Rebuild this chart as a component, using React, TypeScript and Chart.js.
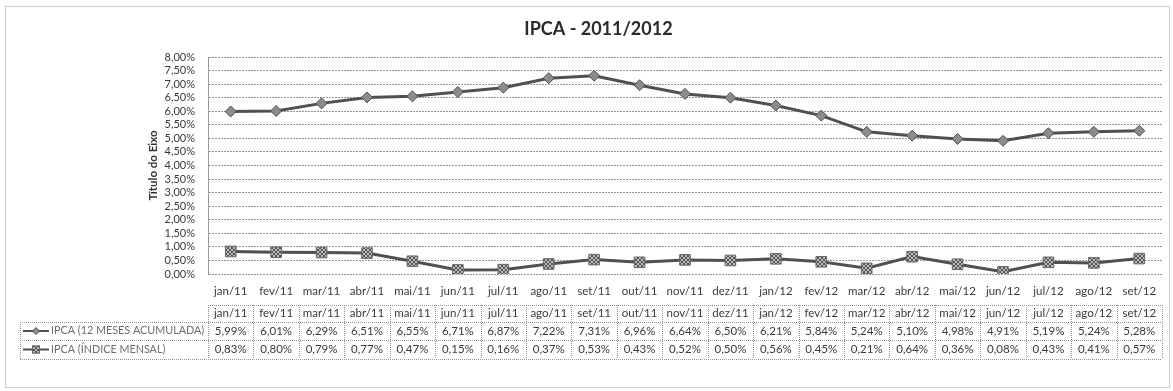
import React, { useEffect, useRef } from "react";
import { Chart, registerables } from "chart.js";

Chart.register(...registerables);

// Meses de referência (eixo X e cabeçalho da tabela)
const months = [
  "jan/11", "fev/11", "mar/11", "abr/11", "mai/11", "jun/11", "jul/11",
  "ago/11", "set/11", "out/11", "nov/11", "dez/11", "jan/12", "fev/12",
  "mar/12", "abr/12", "mai/12", "jun/12", "jul/12", "ago/12", "set/12",
];

// IPCA acumulado em 12 meses (%)
const ipca12Meses = [
  5.99, 6.01, 6.29, 6.51, 6.55, 6.71, 6.87, 7.22, 7.31, 6.96, 6.64,
  6.5, 6.21, 5.84, 5.24, 5.1, 4.98, 4.91, 5.19, 5.24, 5.28,
];

// IPCA índice mensal (%)
const ipcaMensal = [
  0.83, 0.8, 0.79, 0.77, 0.47, 0.15, 0.16, 0.37, 0.53, 0.43, 0.52,
  0.5, 0.56, 0.45, 0.21, 0.64, 0.36, 0.08, 0.43, 0.41, 0.57,
];

const seriesNames = ["IPCA (12 MESES ACUMULADA)", "IPCA (ÍNDICE MENSAL)"];

// Escala do eixo Y (%)
const yMin = 0;
const yMax = 8;
const yStep = 0.5;

const chartTitle = "IPCA - 2011/2012";
const axisTitle = "Título do Eixo";

const FONT = "Lato, 'Liberation Sans', sans-serif";
const LINE_COLOR = "#505050";
const TEXT_DARK = "#3a3a3a";
const GRID_COLOR = "#949494";

const fmtPct = (v: number) => v.toFixed(2).replace(".", ",") + "%";

function makeHatch(): CanvasPattern | string {
  const c = document.createElement("canvas");
  c.width = 4;
  c.height = 4;
  const g = c.getContext("2d");
  if (!g) return "#888";
  g.fillStyle = "#bdbdbd";
  g.fillRect(0, 0, 4, 4);
  g.fillStyle = "#555";
  for (let i = 0; i < 4; i++) {
    g.fillRect(i, i, 1, 1);
    g.fillRect(3 - i, i, 1, 1);
  }
  const p = g.createPattern(c, "repeat");
  return p || "#888";
}

function drawDiamond(ctx: CanvasRenderingContext2D, cx: number, cy: number, r: number) {
  ctx.beginPath();
  ctx.moveTo(cx, cy - r);
  ctx.lineTo(cx + r, cy);
  ctx.lineTo(cx, cy + r);
  ctx.lineTo(cx - r, cy);
  ctx.closePath();
  ctx.fillStyle = "#8c8c8c";
  ctx.fill();
  ctx.strokeStyle = LINE_COLOR;
  ctx.lineWidth = 1;
  ctx.stroke();
}

// Moldura pontilhada e fundo branco
const framePlugin = {
  id: "frame",
  beforeDraw(chart: Chart) {
    const { ctx, width, height } = chart;
    ctx.save();
    ctx.fillStyle = "#ffffff";
    ctx.fillRect(0, 0, width, height);
    ctx.strokeStyle = "#9a9a9a";
    ctx.lineWidth = 1;
    ctx.setLineDash([1, 1]);
    ctx.strokeRect(5.5, 6.5, width - 9, height - 10);
    ctx.restore();
  },
};

// Título do gráfico
const headingPlugin = {
  id: "heading",
  afterDraw(chart: Chart) {
    const { ctx, width } = chart;
    ctx.save();
    ctx.font = `bold 18px ${FONT}`;
    ctx.fillStyle = "#2a2a2a";
    ctx.textAlign = "center";
    ctx.textBaseline = "middle";
    ctx.fillText(chartTitle, width / 2 + 12, 29);
    ctx.restore();
  },
};

// Tabela de dados abaixo do eixo X
const dataTablePlugin = {
  id: "dataTable",
  afterDraw(chart: Chart) {
    const { ctx, chartArea } = chart;
    const x = chart.scales.x;
    const n = months.length;
    const left = x.getPixelForValue(-0.5);
    const right = x.getPixelForValue(n - 0.5);
    const base = chartArea.bottom;
    const rows = [base + 31, base + 48, base + 66, base + 85];
    const keyLeft = 20;
    const a = (v: number) => Math.round(v) + 0.5;

    ctx.save();
    ctx.strokeStyle = GRID_COLOR;
    ctx.lineWidth = 1;
    ctx.setLineDash([1, 1]);
    const hline = (x1: number, x2: number, y: number) => {
      ctx.beginPath();
      ctx.moveTo(x1, a(y));
      ctx.lineTo(x2, a(y));
      ctx.stroke();
    };
    const vline = (xx: number, y1: number, y2: number) => {
      ctx.beginPath();
      ctx.moveTo(a(xx), y1);
      ctx.lineTo(a(xx), y2);
      ctx.stroke();
    };
    hline(left, right, rows[0]);
    hline(keyLeft, right, rows[1]);
    hline(keyLeft, right, rows[2]);
    hline(keyLeft, right, rows[3]);
    vline(keyLeft, rows[1], rows[3]);
    for (let i = 0; i <= n; i++) {
      vline(x.getPixelForValue(i - 0.5), rows[0], rows[3]);
    }
    ctx.setLineDash([]);

    ctx.font = `11.5px ${FONT}`;
    ctx.fillStyle = TEXT_DARK;
    ctx.textAlign = "center";
    ctx.textBaseline = "middle";
    const mid = (r: number) => (rows[r] + rows[r + 1]) / 2;
    for (let i = 0; i < n; i++) {
      const cx = x.getPixelForValue(i);
      ctx.fillText(months[i], cx, mid(0));
      ctx.fillText(fmtPct(ipca12Meses[i]), cx, mid(1));
      ctx.fillText(fmtPct(ipcaMensal[i]), cx, mid(2));
    }

    // Chaves da legenda
    const hatch = makeHatch();
    ctx.font = `10.8px ${FONT}`;
    for (let r = 0; r < 2; r++) {
      const cy = mid(r + 1);
      ctx.strokeStyle = LINE_COLOR;
      ctx.lineWidth = 2;
      ctx.beginPath();
      ctx.moveTo(23, cy);
      ctx.lineTo(49, cy);
      ctx.stroke();
      if (r === 0) {
        drawDiamond(ctx, 36, cy, 3.5);
      } else {
        ctx.fillStyle = hatch as any;
        ctx.fillRect(32, cy - 4, 8, 8);
        ctx.strokeStyle = "#666";
        ctx.lineWidth = 1;
        ctx.strokeRect(32.5, cy - 3.5, 7, 7);
      }
      ctx.fillStyle = "#6e6e6e";
      ctx.textAlign = "left";
      ctx.fillText(seriesNames[r], 51, cy);
    }
    ctx.restore();
  },
};

export default function App() {
  const canvasRef = useRef<HTMLCanvasElement | null>(null);

  useEffect(() => {
    document.body.style.margin = "0";
    const canvas = canvasRef.current;
    if (!canvas) return;
    const hatch = makeHatch();

    const chart = new Chart(canvas, {
      type: "line",
      data: {
        labels: months,
        datasets: [
          {
            label: seriesNames[0],
            data: ipca12Meses,
            borderColor: LINE_COLOR,
            borderWidth: 3,
            pointStyle: "rectRot",
            pointRadius: 5.5,
            pointBackgroundColor: "#8c8c8c",
            pointBorderColor: LINE_COLOR,
            pointBorderWidth: 1,
            tension: 0,
          },
          {
            label: seriesNames[1],
            data: ipcaMensal,
            borderColor: LINE_COLOR,
            borderWidth: 3,
            pointStyle: "rect",
            pointRadius: 7.5,
            pointBackgroundColor: hatch as any,
            pointBorderColor: "#666",
            pointBorderWidth: 1,
            tension: 0,
          },
        ],
      },
      options: {
        responsive: false,
        animation: false,
        devicePixelRatio: 1,
        layout: { padding: { top: 57, right: 11, bottom: 87, left: 0 } },
        plugins: {
          legend: { display: false },
          title: { display: false },
          tooltip: { enabled: false },
        },
        scales: {
          x: {
            offset: true,
            grid: { display: false, drawTicks: false },
            border: { display: false },
            ticks: {
              color: TEXT_DARK,
              font: { family: FONT, size: 11.5 },
              padding: 10,
              autoSkip: false,
              maxRotation: 0,
            },
            afterFit(scale: any) {
              scale.height = 30;
            },
          },
          y: {
            min: yMin,
            max: yMax,
            grid: {
              color: GRID_COLOR,
              lineWidth: 1,
              drawTicks: false,
            },
            border: { display: true, color: "#9a9a9a", dash: [2, 1] },
            ticks: {
              stepSize: yStep,
              autoSkip: false,
              color: TEXT_DARK,
              font: { family: FONT, size: 11 },
              padding: 13,
              callback: (v: any) => fmtPct(Number(v)),
            },
            title: {
              display: true,
              text: axisTitle,
              color: "#333",
              font: { family: FONT, size: 11.5, weight: "bold" },
              padding: { top: 146, bottom: 0 },
            },
            afterFit(scale: any) {
              scale.width = 208;
            },
          },
        },
      },
      plugins: [framePlugin, headingPlugin, dataTablePlugin],
    });

    return () => chart.destroy();
  }, []);

  return <canvas ref={canvasRef} width={1173} height={391} style={{ display: "block" }} />;
}
